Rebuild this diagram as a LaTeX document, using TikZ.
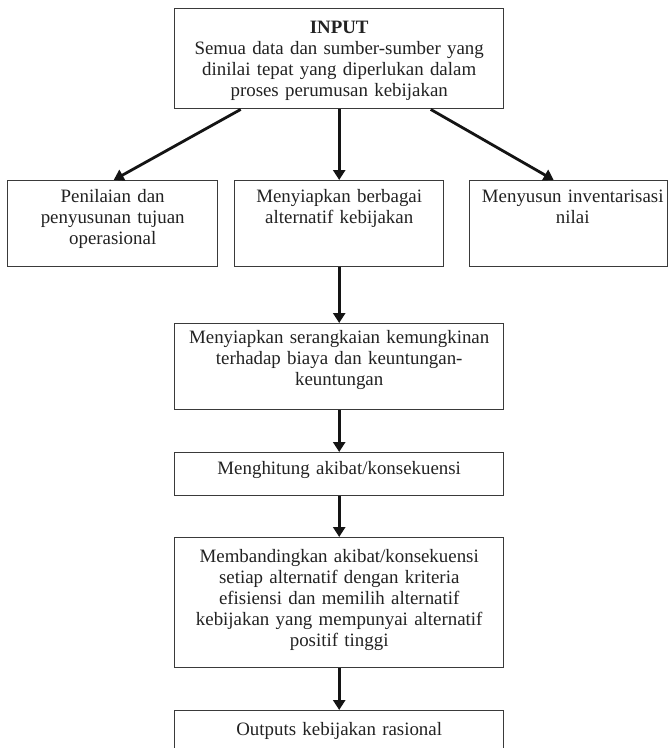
\documentclass[tikz,border=0pt]{standalone}
\usepackage{fontspec}
\setmainfont{Liberation Serif}
\usetikzlibrary{arrows.meta}
\definecolor{boxline}{HTML}{3A3A3A}
\definecolor{txtcol}{HTML}{222222}
\begin{document}
\begin{tikzpicture}[x=1pt,y=1pt,
  box/.style={draw=boxline, line width=1.4pt, inner sep=0pt, anchor=north west},
  txt/.style={text=txtcol, font=\fontsize{18.9}{21}\selectfont, align=center, text width=345pt, inner sep=0pt, anchor=base},
  arr/.style={line width=2.8pt, draw=black!92, -{Triangle[width=12pt,length=10pt]}}]
\useasboundingbox (0,0) rectangle (668,-748);
\fill[white] (0,0) rectangle (668,-748);
\clip (0,0) rectangle (668,-748);
% boxes
\node[box, minimum width=329pt, minimum height=100pt] (in) at (174,-8) {};
\node[box, minimum width=210pt, minimum height=86pt] (lb) at (7,-180) {};
\node[box, minimum width=209pt, minimum height=86pt] (mb) at (234,-180) {};
\node[box, minimum width=198pt, minimum height=86pt] (rb) at (469,-180) {};
\node[box, minimum width=329pt, minimum height=86pt] (b2) at (174,-323) {};
\node[box, minimum width=329pt, minimum height=43pt] (b3) at (174,-452) {};
\node[box, minimum width=329pt, minimum height=130pt] (b4) at (174,-537) {};
\node[box, minimum width=329pt, minimum height=80pt] (b5) at (174,-710) {};
% texts
\node[txt] (in-t) at ([yshift=-25pt]in.north) {\textbf{INPUT}\\Semua data dan sumber-sumber yang\\dinilai tepat yang diperlukan dalam\\proses perumusan kebijakan};
\node[txt] (lb-t) at ([yshift=-22.5pt]lb.north) {Penilaian dan\\penyusunan tujuan\\operasional};
\node[txt] (mb-t) at ([yshift=-22.5pt]mb.north) {Menyiapkan berbagai\\alternatif kebijakan};
\node[txt] (rb-t) at ([yshift=-22.5pt,xshift=4pt]rb.north) {Menyusun inventarisasi\\nilai};
\node[txt] (b2-t) at ([yshift=-20.5pt]b2.north) {Menyiapkan serangkaian kemungkinan\\terhadap biaya dan keuntungan-\\keuntungan};
\node[txt] (b3-t) at ([yshift=-22pt]b3.north) {Menghitung akibat/konsekuensi};
\node[txt] (b4-t) at ([yshift=-25pt]b4.north) {Membandingkan akibat/konsekuensi\\setiap alternatif dengan kriteria\\efisiensi dan memilih alternatif\\kebijakan yang mempunyai alternatif\\positif tinggi};
\node[txt] (b5-t) at ([yshift=-25pt]b5.north) {Outputs kebijakan rasional};
% arrows
\draw[arr] ([xshift=-98.5pt]in.south) -- ([xshift=1pt]lb.north);
\draw[arr] (in.south) -- (mb.north);
\draw[arr] ([xshift=91.5pt]in.south) -- ([xshift=-15pt]rb.north);
\draw[arr] (mb.south) -- (b2.north);
\draw[arr] (b2.south) -- (b3.north);
\draw[arr] (b3.south) -- (b4.north);
\draw[arr] (b4.south) -- (b5.north);
\end{tikzpicture}
\end{document}
